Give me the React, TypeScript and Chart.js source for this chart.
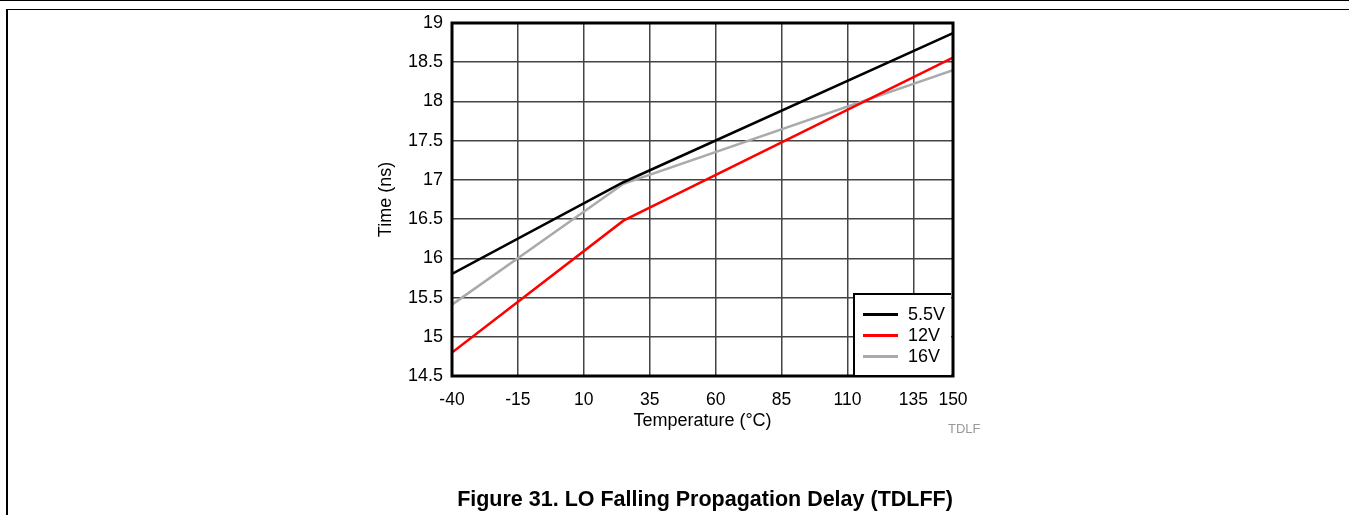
import React, { useEffect, useRef } from "react";
import { Chart, registerables } from "chart.js";

Chart.register(...registerables);

const temperatures = [-40, 25, 150];
const series55 = [15.8, 16.97, 18.87];
const series12 = [14.8, 16.48, 18.56];
const series16 = [15.41, 16.95, 18.4];
const xTicks = [-40, -15, 10, 35, 60, 85, 110, 135, 150];
const yTicks = [14.5, 15, 15.5, 16, 16.5, 17, 17.5, 18, 18.5, 19];
const legendLabels = ["5.5V", "12V", "16V"];
const colors = ["#000000", "#ff0000", "#aaaaaa"];

const FONT = "'Liberation Sans', Arial, Helvetica, sans-serif";

const borderPlugin = {
  id: "plotBorder",
  afterDraw(chart: any) {
    const { ctx, chartArea } = chart;
    ctx.save();
    ctx.strokeStyle = "#000";
    ctx.lineWidth = 3;
    ctx.strokeRect(chartArea.left, chartArea.top, chartArea.right - chartArea.left, chartArea.bottom - chartArea.top);
    ctx.restore();
  },
};

export default function App() {
  const ref = useRef<HTMLCanvasElement | null>(null);
  useEffect(() => {
    if (!ref.current) return;
    const mk = (vals: number[]) => temperatures.map((t, i) => ({ x: t, y: vals[i] }));
    const chart = new Chart(ref.current, {
      type: "line",
      data: {
        datasets: [
          { label: legendLabels[0], data: mk(series55), borderColor: colors[0], borderWidth: 2.5, pointRadius: 0, tension: 0 },
          { label: legendLabels[1], data: mk(series12), borderColor: colors[1], borderWidth: 2.5, pointRadius: 0, tension: 0 },
          { label: legendLabels[2], data: mk(series16), borderColor: colors[2], borderWidth: 2.5, pointRadius: 0, tension: 0 },
        ],
      },
      options: {
        responsive: false,
        animation: false,
        devicePixelRatio: 1,
        layout: { padding: { left: 375, top: 23, right: 396, bottom: 83 } },
        plugins: { legend: { display: false }, tooltip: { enabled: false } },
        scales: {
          x: {
            type: "linear",
            min: -40,
            max: 150,
            afterBuildTicks: (s: any) => { s.ticks = xTicks.map((v) => ({ value: v })); },
            afterFit: (s: any) => { s.height = 56; },
            grid: { color: "#444", lineWidth: 1.5, drawTicks: false },
            border: { display: false },
            ticks: { color: "#000", font: { family: FONT, size: 17.5 }, padding: 14, maxRotation: 0, autoSkip: false, callback: (v: any) => String(v) },
            title: { display: true, text: "Temperature (°C)", color: "#000", font: { family: FONT, size: 18 }, padding: 0 },
          },
          y: {
            type: "linear",
            min: 14.5,
            max: 19,
            afterBuildTicks: (s: any) => { s.ticks = yTicks.map((v) => ({ value: v })); },
            afterFit: (s: any) => { s.width = 77; },
            grid: { color: "#444", lineWidth: 1.5, drawTicks: false },
            border: { display: false },
            ticks: { color: "#000", font: { family: FONT, size: 18 }, padding: 9, callback: (v: any) => String(v) },
            title: { display: true, text: "Time (ns)", color: "#000", font: { family: FONT, size: 18 }, padding: 0 },
          },
        },
      },
      plugins: [borderPlugin],
    } as any);
    return () => chart.destroy();
  }, []);

  const rowY = [21, 42, 63];
  return (
    <div style={{ position: "absolute", left: 0, top: 0, width: 1349, height: 515, background: "#fff", overflow: "hidden", fontFamily: FONT }}>
      <div style={{ position: "absolute", left: 0, top: 0, width: 1349, height: 1, background: "#000" }} />
      <div style={{ position: "absolute", left: 7, top: 9, width: 1342, height: 1, background: "#000" }} />
      <div style={{ position: "absolute", left: 6, top: 9, width: 2, height: 506, background: "#000" }} />
      <canvas ref={ref} width={1349} height={515} style={{ position: "absolute", left: 0, top: 0, width: 1349, height: 515 }} />
      <div style={{ position: "absolute", left: 853, top: 293, width: 98, height: 82, boxSizing: "border-box", borderLeft: "2px solid #000", borderTop: "2px solid #000", background: "#fff" }}>
        {legendLabels.map((l, i) => (
          <React.Fragment key={l}>
            <div style={{ position: "absolute", left: 8, top: rowY[i] - 2 - 1.5, width: 35, height: 3, background: colors[i] }} />
            <div style={{ position: "absolute", left: 53, top: rowY[i] - 2 - 11, height: 22, lineHeight: "22px", fontSize: 18, color: "#000" }}>{l}</div>
          </React.Fragment>
        ))}
      </div>
      <div style={{ position: "absolute", left: 948, top: 421, fontSize: 13, lineHeight: "15px", color: "#999" }}>TDLF</div>
      <div style={{ position: "absolute", left: 405, width: 600, top: 487, textAlign: "center", fontSize: 21.5, lineHeight: "24px", fontWeight: "bold", color: "#000" }}>
        Figure 31. LO Falling Propagation Delay (TDLFF)
      </div>
    </div>
  );
}
